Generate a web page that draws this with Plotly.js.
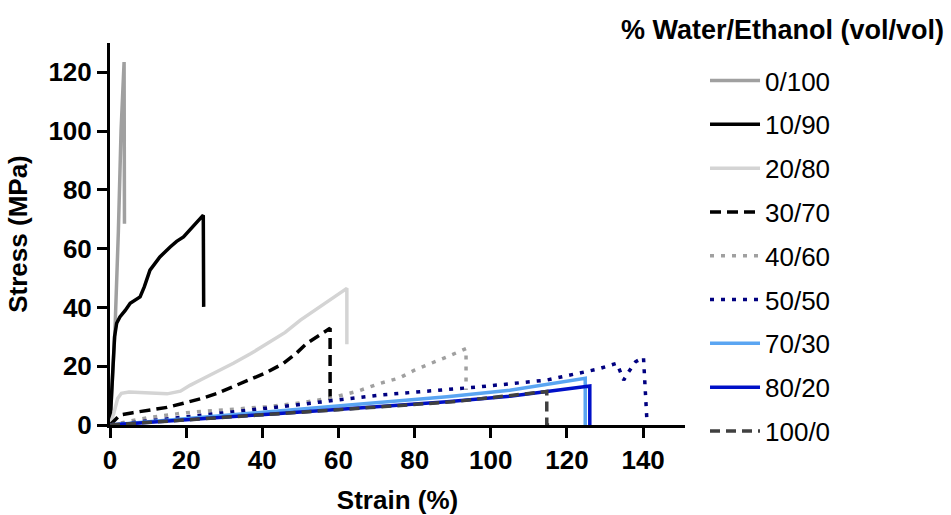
<!DOCTYPE html>
<html>
<head>
<meta charset="utf-8">
<script src="https://cdn.plot.ly/plotly-3.0.1.min.js"></script>
<style>
html,body{margin:0;padding:0;background:#fff;}
#chart{width:951px;height:515px;}
</style>
</head>
<body>
<div id="chart"></div>
<script>
// Series names (legend)
const seriesNames = ["0/100", "10/90", "20/80", "30/70", "40/60", "50/50", "70/30", "80/20", "100/0"];

// Strain (%) and Stress (MPa) per series
const x_0_100 = [0, 1.3, 2.2, 2.9, 3.7, 3.8];
const y_0_100 = [0, 32, 66, 100, 123.5, 68.5];

const x_10_90 = [0, 0.6, 1.2, 1.75, 2.6, 4, 5.3, 7.9, 9, 10.5, 13.1, 15.8, 17.5, 19.3, 21, 24.5, 24.6];
const y_10_90 = [0, 15, 30, 34.6, 36.8, 39, 41.4, 43.6, 47, 52.7, 57.2, 60.6, 62.5, 64, 66.5, 71.4, 40.2];

const x_20_80 = [0, 1, 2, 3, 5, 10, 15, 18.5, 21, 24, 28, 32.4, 37, 41.2, 46, 50, 56, 62.2, 62.2];
const y_20_80 = [0, 4, 9, 10.8, 11.2, 11, 10.6, 11.5, 13.5, 15.5, 18, 21, 24.3, 27.8, 31.5, 35.7, 41, 46.5, 27.5];

const x_30_70 = [0, 2.6, 6, 10.5, 15, 19.3, 24, 28, 32, 36.8, 41, 45.6, 49, 51.7, 55, 57.8, 57.8];
const y_30_70 = [0, 3.4, 4.2, 5.1, 6, 7.4, 9, 10.7, 12.8, 15.3, 17.8, 21, 24.5, 27.8, 30.5, 32.9, 7];

const x_40_60 = [0, 10, 20, 30, 41, 50, 58, 65, 71, 76, 80, 88.5, 93.5, 93.5];
const y_40_60 = [0, 2.5, 4.2, 5.2, 6.2, 7.5, 9.2, 11.5, 14.2, 16, 18.7, 23.2, 26, 11.9];

const x_50_50 = [0, 20, 44.7, 70.9, 97.2, 114.7, 123.5, 128, 133.1, 134.9, 136.2, 138, 140.1, 140.6, 141];
const y_50_50 = [0, 2.8, 6.2, 10.2, 13, 15.3, 17.6, 19, 21, 15.3, 18.1, 21.5, 23, 12, 1.5];

const x_70_30 = [0, 20, 44.7, 70, 88.5, 105, 124.8, 124.8];
const y_70_30 = [0, 2.2, 4.8, 7.5, 9.6, 11.8, 15.9, 0];

const x_80_20 = [0, 20, 44.7, 70, 88.5, 105, 126, 126];
const y_80_20 = [0, 1.7, 4, 6.2, 7.9, 9.8, 13.3, 0];

const x_100_0 = [0, 30, 60, 90, 114.7, 114.7, 116.5];
const y_100_0 = [0, 2.5, 5.2, 7.9, 11.4, 0, 0];

const xTicks = [0, 20, 40, 60, 80, 100, 120, 140];
const yTicks = [0, 20, 40, 60, 80, 100, 120];

const xs = [x_0_100, x_10_90, x_20_80, x_30_70, x_40_60, x_50_50, x_70_30, x_80_20, x_100_0];
const ys = [y_0_100, y_10_90, y_20_80, y_30_70, y_40_60, y_50_50, y_70_30, y_80_20, y_100_0];
const colors = ["#A0A0A0", "#000000", "#D4D4D4", "#000000", "#A0A0A0", "#000080", "#5AA5F2", "#0010C8", "#404040"];
const dashes = ["solid", "solid", "solid", "11px,6px", "4px,7px", "4px,7px", "solid", "solid", "10px,6px"];

const traces = seriesNames.map((n, i) => ({
  type: "scatter",
  mode: "lines",
  name: n,
  legendgroup: "g" + i,
  x: xs[i],
  y: ys[i],
  line: {color: colors[i], width: 3.5, dash: dashes[i]},
  hoverinfo: "skip"
}));

const FONT = "Liberation Sans, Arial, sans-serif";

const layout = {
  width: 951,
  height: 515,
  margin: {l: 110, r: 266, t: 43, b: 90},
  paper_bgcolor: "#fff",
  plot_bgcolor: "#fff",
  showlegend: true,
  font: {family: FONT, color: "#000"},
  xaxis: {
    range: [0, 151],
    tickvals: xTicks,
    ticktext: xTicks.map(String),
    showgrid: false,
    zeroline: false,
    showline: true,
    linecolor: "#000",
    linewidth: 3,
    ticks: "outside",
    ticklen: 10,
    tickwidth: 3,
    tickcolor: "#000",
    tickfont: {family: FONT, size: 26, color: "#000", weight: "bold"},
    title: {text: "<b>Strain (%)</b>", font: {family: FONT, size: 26, color: "#000"}, standoff: 22}
  },
  yaxis: {
    range: [0, 130],
    tickvals: yTicks,
    ticktext: yTicks.map(String),
    showgrid: false,
    zeroline: false,
    showline: true,
    linecolor: "#000",
    linewidth: 3,
    ticks: "outside",
    ticklen: 10,
    tickwidth: 3,
    tickcolor: "#000",
    tickfont: {family: FONT, size: 26, color: "#000", weight: "bold"},
    title: {text: "<b>Stress (MPa)</b>", font: {family: FONT, size: 26, color: "#000"}, standoff: 14}
  },
  legend: {
    x: 1.0348,
    xanchor: "left",
    y: 0.963,
    yanchor: "top",
    font: {family: FONT, size: 26, color: "#000"},
    tracegroupgap: 7,
    itemwidth: 50,
    maxheight: 500,
    bgcolor: "rgba(0,0,0,0)",
    borderwidth: 0
  },
  annotations: [{
    text: "<b>% Water/Ethanol (vol/vol)</b>",
    xref: "paper", yref: "paper",
    x: 1.17, y: 1.034,
    xanchor: "center", yanchor: "middle",
    showarrow: false,
    font: {family: FONT, size: 27, color: "#000"}
  }]
};

Plotly.newPlot("chart", traces, layout, {displayModeBar: false, staticPlot: true});
</script>
</body>
</html>
